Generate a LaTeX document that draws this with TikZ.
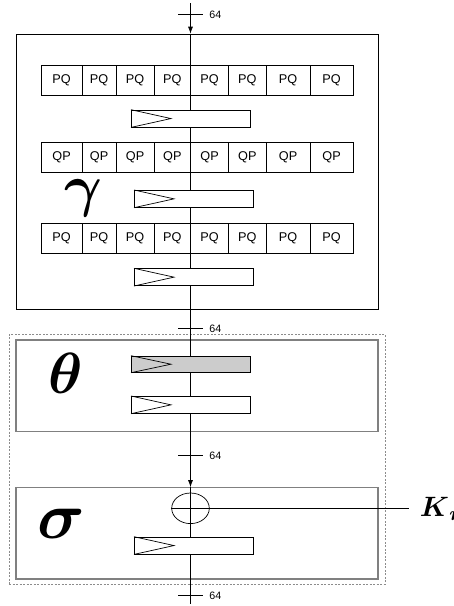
\documentclass[tikz,border=0pt]{standalone}
\usepackage{amsmath}
\usepackage{fontspec}
\setmainfont{Liberation Sans}
\newfontfamily\cellfont{Liberation Sans}
\usetikzlibrary{calc,arrows.meta,shapes.geometric}
\definecolor{shadegray}{HTML}{CCCCCC}
\tikzset{
  cell/.style={draw, fill=white, anchor=west, minimum height=30pt, inner sep=0pt, font=\cellfont\fontsize{12.7}{13}\selectfont},
  shiftbox/.style={draw, fill=white, minimum width=119pt, minimum height=17pt, inner sep=0pt, anchor=north west},
  bigbox/.style={draw, minimum width=362pt, inner sep=0pt},
  graybox/.style={bigbox, draw=black!50, line width=1.1pt},
  ticklab/.style={font=\cellfont\fontsize{10.7}{11}\selectfont, anchor=west, inner sep=0pt},
  greek/.style={inner sep=0pt},
  flow/.style={-{Latex[length=7pt,width=5pt]}},
}
\newcommand{\shifttri}[1]{\draw (#1.north west) -- ($(#1.west)+(40pt,0)$) -- (#1.south west);}
\begin{document}
\begin{tikzpicture}[x=1pt,y=-1pt, line width=0.7pt]
\useasboundingbox (0,0) rectangle (454,606);
% frames
\node[bigbox, minimum height=275pt] (topbox) at (197,171.5) {};
\node[draw=black!45, line width=1pt, dash pattern=on 2pt off 1.5pt, minimum width=376pt, minimum height=249.7pt, inner sep=0pt] (dash) at (197,459.15) {};
\node[graybox, minimum height=91.7pt] (thetabox) at (197,385.85) {};
\node[graybox, minimum height=91.3pt] (sigmabox) at (197,533.35) {};
% main line
\coordinate (top) at (190.5,3);
\coordinate (bot) at (190.5,604);
\draw[flow] (top) -- (top |- topbox.north);
\draw (top |- topbox.north) -- (top |- topbox.south) -- (top |- thetabox.north);
\draw[flow] (top |- thetabox.north) -- (top |- sigmabox.north);
\draw (top |- sigmabox.north) -- (bot);
% ticks
\foreach \y/\n in {14/t1, 328.3/t2, 455/t3, 595/t4} {
  \draw (178,\y) -- (203,\y);
  \node[ticklab] (\n) at (209,\y+1) {64};
}
% PQ / QP rows
\foreach \row/\yc/\txt in {r1/80/PQ, r2/157.5/QP, r3/238.3/PQ} {
  \foreach \i/\a/\b in {1/40.7/81.7, 2/81.7/115.7, 3/115.7/153.7, 4/153.7/190.3, 5/190.3/228.3, 6/228.3/265.7, 7/265.7/309.7, 8/309.7/352.7} {
    \node[cell, minimum width=\b pt-\a pt] (\row c\i) at (\a,\yc) {\txt};
  }
}
% shift boxes
\node[shiftbox] (s1) at (131,109.7) {}; \shifttri{s1}
\node[shiftbox] (s2) at (134,190) {}; \shifttri{s2}
\node[shiftbox] (s3) at (134,268.3) {}; \shifttri{s3}
\node[shiftbox, fill=shadegray, minimum height=16.3pt] (s4) at (131,355.7) {}; \shifttri{s4}
\node[shiftbox] (s5) at (131,396) {}; \shifttri{s5}
\node[shiftbox] (s6) at (134,536.7) {}; \shifttri{s6}
% XOR
\node[draw, ellipse, minimum width=37.6pt, minimum height=30.6pt, inner sep=0pt] (xor) at (190.5,508.3) {};
\coordinate (kend) at (409,508.3);
\draw (xor.west) -- (kend);
\draw (xor.north) -- (xor.south);
% Greek labels
\node[greek, scale=5.8] (lgamma) at (83,198) {$\boldsymbol{\gamma}$};
\node[greek, scale=5.8] (ltheta) at (66,373) {$\boldsymbol{\theta}$};
\node[greek, scale=6.6] (lsigma) at (61,524) {$\boldsymbol{\sigma}$};
\node[greek, scale=2.8, anchor=west] (lkey) at (419,509) {$\boldsymbol{K}_{\boldsymbol{r}}$};
\end{tikzpicture}
\end{document}
